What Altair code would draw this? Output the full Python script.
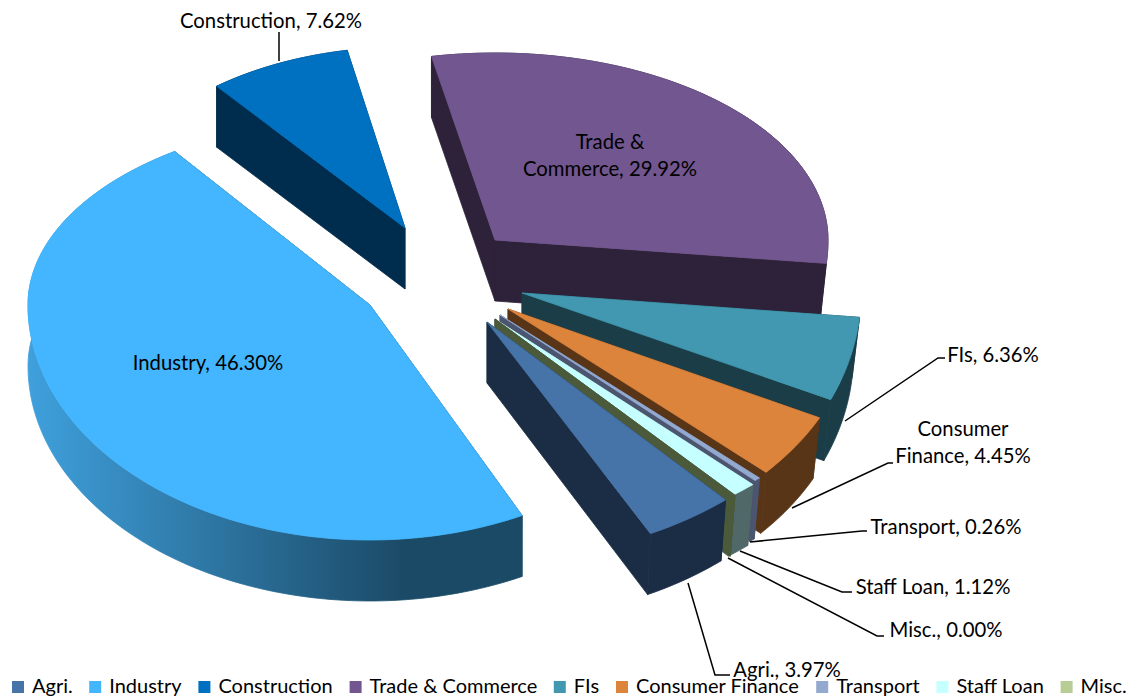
import math
import altair as alt
import pandas as pd

# ---- values ----
categories = ["Agri.", "Industry", "Construction", "Trade & Commerce", "FIs",
              "Consumer Finance", "Transport", "Staff Loan", "Misc."]
shares = [3.97, 46.30, 7.62, 29.92, 6.36, 4.45, 0.26, 1.12, 0.00]
top_colors = ["#4674A9", "#43B6FF", "#0070C0", "#71568F", "#4198B0",
              "#DD843C", "#93A9D0", "#C6FFFF", "#B7CD95"]
side_colors = ["#1B2D44", "#1B4A67", "#002D4D", "#2D2239", "#1A3D47",
               "#593518", "#4C5570", "#506868", "#4C5A3C"]

# exploded-slice layout in reference pixels: apex x, apex y, rx, ry back, ry front
layout = {
    "Agri.": (487, 322, 360, 190, 237.5),
    "Industry": (370, 305, 342, 187, 235),
    "Construction": (405, 228, 303, 181, 230),
    "Trade & Commerce": (495, 240, 333, 187, 235),
    "FIs": (522, 293, 339, 187, 258),
    "Consumer Finance": (508, 309, 348.5, 187, 243),
    "Transport": (500, 315, 371, 187, 228),
    "Staff Loan": (495, 319, 375, 187, 228),
    "Misc.": (495, 319, 378, 187, 228),
}
# small perspective corrections of each slice's first and last edge, in degrees
edge_nudge = {
    "Agri.": (-2.1, -1.9),
    "Industry": (-1.3, 3.6),
    "Trade & Commerce": (0.0, -1.0),
    "FIs": (-1.3, -5.2),
    "Consumer Finance": (-3.0, -3.4),
}
first_angle = 140.6
depth = 61
shrink = -0.022
vanish_x = 520
paint_order = ["Construction", "Trade & Commerce", "FIs", "Consumer Finance",
               "Transport", "Staff Loan", "Misc.", "Agri.", "Industry"]

label_texts = ["Construction, 7.62%", "Trade &\nCommerce, 29.92%", "Industry, 46.30%", "FIs, 6.36%",
               "Consumer\nFinance, 4.45%", "Transport, 0.26%", "Staff Loan, 1.12%",
               "Misc., 0.00%", "Agri., 3.97%"]
label_x = [271, 610, 208, 993, 963, 946, 933, 946, 787]
label_y = [21, 142, 363, 355, 429, 527, 587, 630, 670]

leaders = [
    [(279, 32), (279, 61)],
    [(845, 421), (938, 358), (945, 358)],
    [(792, 508), (888, 463), (893, 463)],
    [(750, 542), (862, 531), (867, 531)],
    [(740, 551), (842, 592), (852, 592)],
    [(728, 558), (877, 636), (884, 636)],
    [(688, 583), (715, 675), (730, 675)],
]

# ---- geometry built from the shares ----
rows = []
pid = [0]


def add_poly(points, key, part="base"):
    pid[0] += 1
    points = list(points) + [points[0]]
    for i, (x, y) in enumerate(points):
        rows.append({"poly": pid[0], "seq": i, "x": x, "y": y, "key": key, "part": part})


def rim(name, t):
    ax, ay, rx, ryb, ryf = layout[name]
    r = math.radians(t)
    c = math.cos(r)
    return (ax + rx * math.sin(r), ay - c * (ryb if c > 0 else ryf))


def down(p):
    k = shrink if p[0] > vanish_x else 0
    return (p[0] + k * (p[0] - vanish_x), p[1] + depth)


spans = {}
a = first_angle
for n, s in zip(categories, shares):
    d0, d1 = edge_nudge.get(n, (0, 0))
    spans[n] = (a + d0, a + s * 3.6 + d1)
    a += s * 3.6

for n in paint_order:
    idx = categories.index(n)
    t0, t1 = spans[n]
    ax, ay = layout[n][:2]
    side = side_colors[idx]
    apex = (ax, ay)
    is_industry = n == "Industry"
    for t in (t0, t1):
        p = rim(n, t)
        add_poly([apex, p, down(p), down(apex)], side)
    steps = max(2, int((t1 - t0) / 1.5))
    ts = [t0 + (t1 - t0) * i / steps for i in range(steps + 1)]
    pts = [rim(n, t) for t in ts]
    # outer wall: the Industry wall carries a horizontal shading gradient
    add_poly(pts + [down(p) for p in reversed(pts)], side, "wall" if is_industry else "base")
    if shares[idx] > 0:
        add_poly([apex] + pts, n, "top" if is_industry else "base")

df = pd.DataFrame(rows)
hexes = sorted(k for k in df["key"].unique() if k.startswith("#"))

x_scale = alt.Scale(domain=[8, 1128], range=[0, 1120])
y_scale = alt.Scale(domain=[8, 699], range=[0, 691])
poly_scale = alt.Scale(domain=categories + hexes, range=top_colors + hexes)
x_enc = alt.X("x:Q", scale=x_scale, axis=None)
y_enc = alt.Y("y:Q", scale=y_scale, axis=None)

slices = alt.Chart(df[df["part"] == "base"]).mark_line(strokeWidth=0.8, interpolate="linear").encode(
    x=x_enc, y=y_enc, detail="poly:N", order="seq:Q",
    fill=alt.Fill("key:N", scale=poly_scale, legend=None),
    stroke=alt.Stroke("key:N", scale=poly_scale, legend=None),
)

wall_gradient = alt.LinearGradient(
    gradient="linear", x1=0, x2=1, y1=0, y2=0,
    stops=[alt.GradientStop(color="#3FA0DC", offset=0),
           alt.GradientStop(color="#1B4A67", offset=0.76),
           alt.GradientStop(color="#1B4A67", offset=1)],
)
industry_wall = alt.Chart(df[df["part"] == "wall"]).mark_line(
    fill=wall_gradient, stroke=wall_gradient, strokeWidth=0.8, interpolate="linear",
).encode(x=x_enc, y=y_enc, detail="poly:N", order="seq:Q")

industry_top = alt.Chart(df[df["part"] == "top"]).mark_line(
    fill=top_colors[1], stroke=top_colors[1], strokeWidth=0.8, interpolate="linear",
).encode(x=x_enc, y=y_enc, detail="poly:N", order="seq:Q")

legend_df = pd.DataFrame({"cat": categories, "x": [20] * 9, "y": [685] * 9})
legend_layer = alt.Chart(legend_df).mark_square(size=0).encode(
    x=x_enc, y=y_enc,
    color=alt.Color(
        "cat:N",
        scale=alt.Scale(domain=categories, range=top_colors),
        sort=categories,
        legend=alt.Legend(
            title=None, orient="none", legendX=0, legendY=669, direction="horizontal",
            columns=9, symbolType="square", symbolSize=144, symbolStrokeWidth=0, symbolOpacity=1,
            labelFont="Lato", labelFontSize=20, labelColor="#000000", columnPadding=12.2,
            labelOffset=4, labelLimit=300,
        ),
    ),
)

lead_rows = [{"id": i, "seq": j, "x": p[0], "y": p[1]} for i, l in enumerate(leaders) for j, p in enumerate(l)]
leader_layer = alt.Chart(pd.DataFrame(lead_rows)).mark_line(color="#000000", strokeWidth=1.5).encode(
    x=x_enc, y=y_enc, detail="id:N", order="seq:Q",
)

labels = alt.Chart(pd.DataFrame({"t": label_texts, "x": label_x, "y": label_y})).mark_text(
    font="Lato", fontSize=20.3, color="#000000", lineBreak="\n", lineHeight=27, baseline="middle", align="center", dy=1,
).encode(x=x_enc, y=y_enc, text="t:N")

chart = alt.layer(slices, industry_wall, industry_top, legend_layer, leader_layer, labels).resolve_scale(
    color="independent", fill="independent", stroke="independent"
).properties(
    width=1120, height=691, padding=0, autosize=alt.AutoSizeParams(type="none"),
    background="#FFFFFF",
).configure_view(stroke=None)

chart.save("out.html", embed_options={"renderer": "svg", "actions": False})
